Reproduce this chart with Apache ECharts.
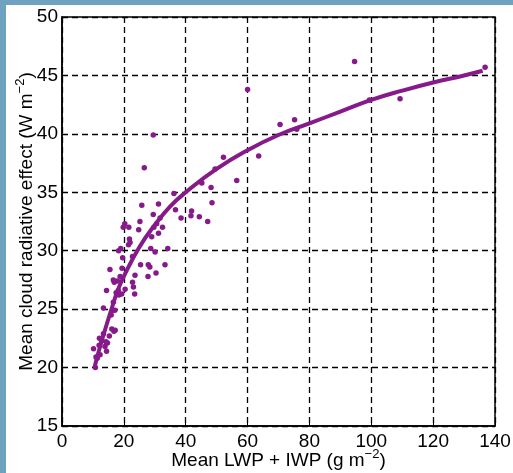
<!DOCTYPE html>
<html>
<head>
<meta charset="utf-8">
<script src="https://cdn.jsdelivr.net/npm/echarts@6/dist/echarts.min.js"></script>
<style>
html,body{margin:0;padding:0;background:#fff;overflow:hidden;}
.band{position:absolute;background:#6fa2bf;}
#c{position:absolute;left:0;top:0;width:513px;height:473px;}
</style>
</head>
<body>
<div class="band" style="left:0;top:0;width:600px;height:5px;"></div>
<div class="band" style="left:0;top:0;width:6px;height:600px;"></div>
<div id="c"></div>
<script>
// Scatter observations: [LWP+IWP (g m^-2), CRE (W m^-2)]
var scatterPoints = [
  [10.2,21.6],[10.8,20.0],[11.0,20.9],[11.4,20.8],[12.3,21.1],[12.0,21.9],[12.1,22.5],[12.8,22.3],
  [13.4,22.9],[13.9,21.8],[14.4,21.4],[14.2,22.2],[14.7,22.1],[15.3,22.7],[13.4,25.1],[14.4,26.6],
  [15.5,28.4],[15.9,24.5],[16.1,23.3],[16.8,23.1],[17.2,23.2],[16.4,24.9],[16.6,25.6],[17.1,24.9],
  [17.5,26.4],[17.9,27.4],[16.9,27.3],[16.6,27.5],[18.8,27.8],[18.2,26.6],[18.4,26.2],[19.3,26.3],
  [18.3,30.0],[19.0,30.2],[19.6,29.4],[19.4,28.5],[20.4,26.7],[19.8,32.0],[20.3,32.3],[21.6,32.0],
  [21.8,31.0],[22.0,30.7],[21.5,30.5],[22.8,29.5],[22.8,27.3],[23.1,26.9],[23.5,26.3],[23.6,27.9],
  [25.4,28.8],[25.2,32.5],[25.8,33.9],[24.8,31.8],[26.6,37.1],[27.8,27.8],[27.9,28.8],[28.7,30.2],
  [28.4,28.6],[29.5,39.9],[29.5,33.1],[29.7,32.0],[30.1,29.9],[30.4,28.1],[29.0,31.2],[30.6,32.3],
  [31.2,34.0],[31.2,31.5],[31.7,32.8],[32.5,32.0],[33.3,28.8],[34.2,30.2],[36.2,34.9],[36.7,33.5],
  [38.5,32.8],[41.7,33.0],[41.9,33.4],[44.4,32.9],[45.2,35.8],[47.1,32.5],[48.2,35.4],[48.5,34.1],
  [49.5,37.0],[52.2,38.0],[56.5,36.0],[60.0,43.8],[63.6,38.1],[70.5,40.8],[75.2,41.2],[75.9,40.4],
  [94.6,46.2],[99.4,42.9],[109.3,43.0],[136.8,45.7]
];
// Fitted curve
var fitX = [10.5,12,14,16,18,20,25,30,35,40,50,60,70,80,90,100,110,120,130,136];
var fitY = [20.0,21.5,23.3,25.0,26.6,27.8,30.3,32.2,33.8,35.0,37.0,38.6,39.9,40.9,41.9,42.9,43.7,44.4,45.0,45.4];
// Axis ticks
var xTicks = [0,20,40,60,80,100,120,140];
var yTicks = [15,20,25,30,35,40,45,50];

var fitData = fitX.map(function(x,i){return [x, fitY[i]];});
var purple = '#871a8a';
var font = '"Liberation Sans", Arial, Helvetica, sans-serif';
var gridLine = {show:true, lineStyle:{color:'#000', width:1.3, type:[6,4]}};

var chart = echarts.init(document.getElementById('c'), null, {renderer:'canvas'});
chart.setOption({
  backgroundColor:'transparent',
  animation:false,
  grid:{left:62, right:18, top:17, bottom:47, show:true, borderColor:'#000', borderWidth:1.5,
        backgroundColor:'transparent', containLabel:false, outerBoundsMode:'none'},
  xAxis:{
    type:'value', min:xTicks[0], max:xTicks[xTicks.length-1], interval:20,
    axisLine:{show:true, lineStyle:{color:'#000', width:1.5}},
    axisTick:{show:true, inside:true, length:5, lineStyle:{color:'#000'}},
    axisLabel:{color:'#000', fontSize:19, fontFamily:font, margin:6},
    splitLine:gridLine,
    name:'{t|Mean LWP + IWP (g m}{s|−2}{t|)}', nameLocation:'middle', nameGap:22, nameMoveOverlap:false,
    nameTextStyle:{rich:{
      t:{color:'#000', fontSize:19, fontFamily:font, lineHeight:22, verticalAlign:'bottom'},
      s:{color:'#000', fontSize:13, fontFamily:font, lineHeight:14, verticalAlign:'top'}
    }}
  },
  yAxis:{
    type:'value', min:yTicks[0], max:yTicks[yTicks.length-1], interval:5,
    axisLine:{show:true, lineStyle:{color:'#000', width:1.5}},
    axisTick:{show:true, inside:true, length:5, lineStyle:{color:'#000'}},
    axisLabel:{color:'#000', fontSize:19, fontFamily:font, margin:4},
    splitLine:gridLine,
    name:'{t|Mean cloud radiative effect (W m}{s|−2}{t|)}', nameLocation:'middle', nameGap:26, nameMoveOverlap:false,
    nameTextStyle:{rich:{
      t:{color:'#000', fontSize:19, fontFamily:font, lineHeight:22, verticalAlign:'bottom'},
      s:{color:'#000', fontSize:13, fontFamily:font, lineHeight:14, verticalAlign:'top'}
    }}
  },
  series:[
    {type:'scatter', data:scatterPoints, symbol:'circle', symbolSize:5.5, itemStyle:{color:purple, opacity:1}, z:3},
    {type:'line', data:fitData, smooth:true, showSymbol:false, lineStyle:{color:purple, width:4}, z:4}
  ]
});
</script>
</body>
</html>
